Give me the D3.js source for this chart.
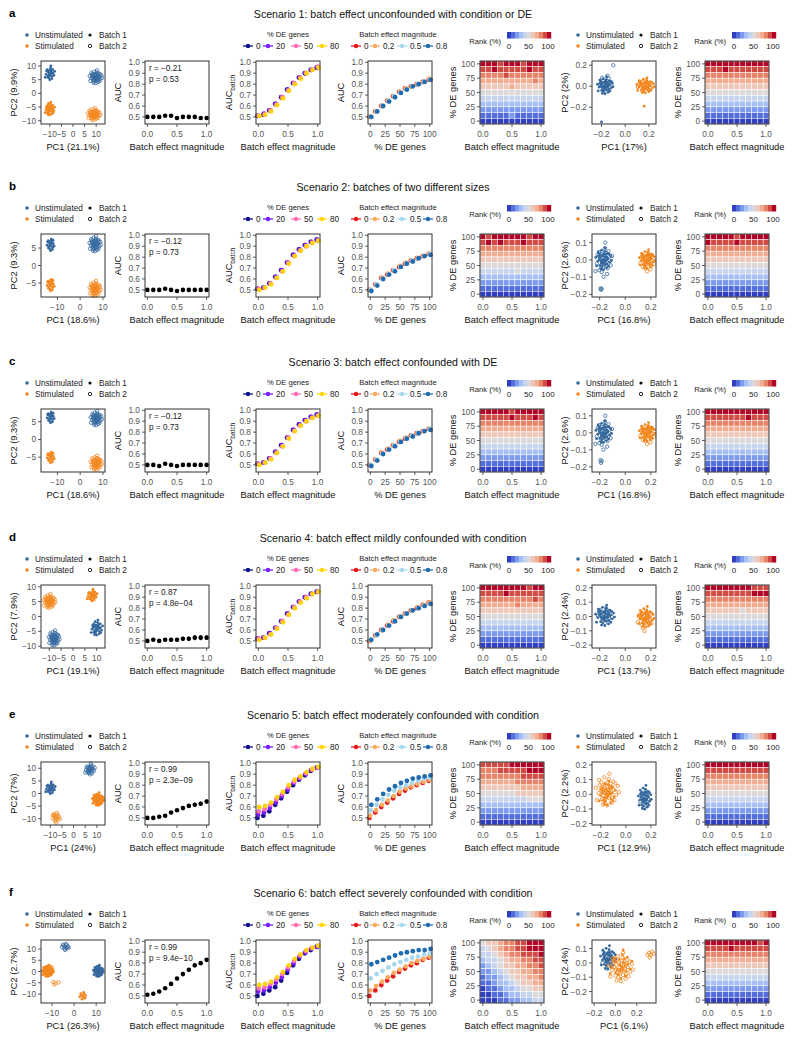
<!DOCTYPE html>
<html><head><meta charset="utf-8">
<script src="https://cdn.jsdelivr.net/npm/d3@7"></script>
<style>body{margin:0;background:#fff}</style>
</head><body>
<script>
// ---------------- DATA ----------------
const rowLetters = ["a","b","c","d","e","f"];
const rowTitles = [
  "Scenario 1: batch effect unconfounded with condition or DE",
  "Scenario 2: batches of two different sizes",
  "Scenario 3: batch effect confounded with DE",
  "Scenario 4: batch effect mildly confounded with condition",
  "Scenario 5: batch effect moderately confounded with condition",
  "Scenario 6: batch effect severely confounded with condition"
];
const batchMag = [0,0.1,0.2,0.3,0.4,0.5,0.6,0.7,0.8,0.9,1.0];
const deLevels = [0,10,20,30,40,50,60,70,80,90,100];
const deSeriesNames = ["0","20","50","80"];
const batchSeriesNames = ["0","0.2","0.5","0.8"];
const deSeriesColors = ["#10108f","#7a1cff","#ff6eb4","#ffd400"];
const batchSeriesColors = ["#e3191c","#fdaa5f","#a8d8ee","#1f6db0"];
const condNames = ["Unstimulated","Stimulated"];
const condColors = ["#35689e","#f2881f"];
const batchNames = ["Batch 1","Batch 2"];

const aucTicks = [0.5,0.6,0.7,0.8,0.9,1.0];
const batchTicks = [0,0.5,1.0];
const deTicks = [0,25,50,75,100];
const rankTicks = [0,50,100];

// panel 2: AUC vs batch effect magnitude
const aucValues = [
  [0.50,0.50,0.50,0.51,0.51,0.49,0.50,0.50,0.50,0.49,0.49],
  [0.50,0.50,0.50,0.51,0.50,0.49,0.50,0.50,0.50,0.50,0.50],
  [0.50,0.50,0.49,0.51,0.50,0.49,0.50,0.50,0.50,0.50,0.50],
  [0.50,0.51,0.50,0.51,0.51,0.51,0.52,0.52,0.53,0.53,0.53],
  [0.50,0.50,0.51,0.52,0.55,0.57,0.59,0.61,0.62,0.63,0.65],
  [0.51,0.52,0.54,0.57,0.61,0.66,0.70,0.74,0.78,0.80,0.83]
];
const aucErrors = [
  [0.004,0.004,0.004,0.004,0.004,0.004,0.004,0.004,0.004,0.004,0.004],
  [0.004,0.004,0.004,0.004,0.004,0.004,0.004,0.004,0.004,0.004,0.004],
  [0.004,0.004,0.004,0.004,0.004,0.004,0.004,0.004,0.004,0.004,0.004],
  [0.012,0.015,0.012,0.014,0.015,0.016,0.018,0.020,0.024,0.024,0.022],
  [0.005,0.005,0.006,0.008,0.010,0.012,0.014,0.016,0.018,0.020,0.020],
  [0.006,0.006,0.006,0.008,0.008,0.010,0.022,0.016,0.012,0.010,0.008]
];
const corrR = ["\u22120.21","\u22120.12","\u22120.12","0.87","0.99","0.99"];
const corrP = ["0.53","0.73","0.73","4.8e\u221204","2.3e\u221209","9.4e\u221210"];

// panel 3: AUC_batch by % DE series (0,20,50,80)
const aucBatchSeries = [
  [[0.51,0.52,0.56,0.62,0.68,0.75,0.81,0.86,0.90,0.93,0.95],
   [0.51,0.53,0.56,0.62,0.68,0.75,0.81,0.86,0.90,0.93,0.95],
   [0.51,0.52,0.56,0.61,0.68,0.74,0.81,0.86,0.90,0.93,0.96],
   [0.51,0.52,0.55,0.61,0.67,0.74,0.80,0.85,0.90,0.93,0.95]],
  [[0.51,0.52,0.56,0.62,0.68,0.75,0.82,0.87,0.91,0.94,0.96],
   [0.51,0.52,0.56,0.62,0.68,0.75,0.82,0.87,0.91,0.94,0.96],
   [0.51,0.52,0.56,0.61,0.67,0.75,0.81,0.86,0.90,0.93,0.95],
   [0.50,0.52,0.55,0.61,0.67,0.74,0.81,0.86,0.90,0.93,0.95]],
  [[0.51,0.52,0.56,0.62,0.68,0.75,0.82,0.87,0.91,0.94,0.96],
   [0.51,0.52,0.56,0.62,0.68,0.75,0.82,0.87,0.91,0.94,0.96],
   [0.51,0.52,0.56,0.61,0.67,0.75,0.81,0.86,0.90,0.93,0.95],
   [0.50,0.52,0.55,0.61,0.67,0.74,0.81,0.86,0.90,0.93,0.95]],
  [[0.52,0.53,0.57,0.62,0.68,0.75,0.81,0.86,0.90,0.93,0.95],
   [0.52,0.53,0.57,0.62,0.68,0.75,0.81,0.86,0.90,0.93,0.95],
   [0.52,0.53,0.56,0.62,0.68,0.74,0.81,0.86,0.90,0.93,0.95],
   [0.51,0.53,0.56,0.61,0.67,0.74,0.80,0.85,0.89,0.93,0.95]],
  [[0.50,0.52,0.56,0.62,0.68,0.74,0.80,0.85,0.89,0.93,0.96],
   [0.53,0.55,0.59,0.64,0.70,0.76,0.82,0.86,0.90,0.94,0.96],
   [0.56,0.58,0.62,0.67,0.72,0.78,0.83,0.87,0.91,0.94,0.96],
   [0.60,0.61,0.64,0.69,0.74,0.80,0.85,0.88,0.92,0.95,0.97]],
  [[0.50,0.52,0.55,0.58,0.64,0.71,0.78,0.84,0.89,0.92,0.95],
   [0.54,0.55,0.58,0.62,0.67,0.74,0.80,0.86,0.90,0.93,0.95],
   [0.57,0.58,0.61,0.65,0.70,0.76,0.82,0.87,0.91,0.94,0.96],
   [0.60,0.61,0.63,0.67,0.72,0.78,0.84,0.88,0.92,0.94,0.96]]
];
const aucBatchErr = [0.008,0.008,0.008,0.008,0.016,0.016];

// panel 4: AUC by batch-effect series (0,0.2,0.5,0.8) vs % DE genes
const aucDESeries = [
  [[0.50,0.55,0.60,0.65,0.69,0.73,0.76,0.78,0.80,0.82,0.84],
   [0.50,0.55,0.60,0.65,0.69,0.73,0.76,0.78,0.80,0.82,0.85],
   [0.50,0.55,0.60,0.65,0.69,0.72,0.75,0.78,0.80,0.82,0.84],
   [0.50,0.55,0.60,0.64,0.68,0.72,0.75,0.78,0.80,0.82,0.84]],
  [[0.50,0.55,0.61,0.64,0.68,0.71,0.74,0.77,0.79,0.81,0.83],
   [0.50,0.55,0.61,0.65,0.68,0.72,0.75,0.77,0.79,0.81,0.83],
   [0.50,0.55,0.60,0.64,0.68,0.71,0.74,0.77,0.79,0.81,0.83],
   [0.49,0.54,0.60,0.64,0.67,0.71,0.74,0.76,0.79,0.81,0.82]],
  [[0.50,0.55,0.61,0.64,0.68,0.71,0.74,0.77,0.79,0.81,0.83],
   [0.50,0.55,0.61,0.65,0.68,0.72,0.75,0.77,0.79,0.81,0.83],
   [0.50,0.55,0.60,0.64,0.68,0.71,0.74,0.77,0.79,0.81,0.83],
   [0.49,0.54,0.60,0.64,0.67,0.71,0.74,0.76,0.79,0.81,0.82]],
  [[0.50,0.55,0.60,0.64,0.68,0.72,0.75,0.78,0.80,0.83,0.85],
   [0.50,0.55,0.60,0.65,0.69,0.72,0.75,0.78,0.81,0.83,0.85],
   [0.51,0.55,0.60,0.64,0.68,0.72,0.75,0.78,0.80,0.82,0.84],
   [0.51,0.56,0.60,0.64,0.68,0.72,0.75,0.78,0.80,0.82,0.84]],
  [[0.50,0.55,0.60,0.64,0.68,0.72,0.75,0.78,0.80,0.82,0.84],
   [0.52,0.57,0.62,0.66,0.70,0.74,0.77,0.79,0.81,0.83,0.85],
   [0.57,0.62,0.67,0.71,0.75,0.78,0.80,0.82,0.84,0.86,0.87],
   [0.62,0.67,0.72,0.76,0.79,0.82,0.84,0.86,0.87,0.88,0.89]],
  [[0.50,0.55,0.60,0.64,0.68,0.72,0.75,0.78,0.80,0.83,0.85],
   [0.55,0.59,0.63,0.67,0.71,0.74,0.77,0.80,0.82,0.84,0.86],
   [0.66,0.70,0.73,0.76,0.79,0.81,0.83,0.85,0.86,0.88,0.89],
   [0.79,0.81,0.83,0.85,0.87,0.89,0.90,0.91,0.92,0.92,0.93]]
];
const aucDEErr = [0.008,0.008,0.008,0.008,0.018,0.014];

// heatmaps: rank level (0..10, 'a'=10) per cell; first string = 100% DE, columns = batch 0..1
const heat1 = [
  ["aaa9aaa9aaa","99a99999a99","88889888888","77777777787","66666766666","55555555555","44444444444","33333333333","22222222222","11111211111","00000000000"],
  ["a9aaaaaa9aa","9a9a999a999","88888888888","77777777777","66666666666","55555555555","44444454444","33333333333","22222222222","11111111111","00000000000"],
  ["aaaaa9aaaaa","99999a999a9","88888888888","77777777777","66666666666","55555555555","44444444444","33333333333","22222222222","11111111111","00000000000"],
  ["aaaaaaaa9aa","9999a999999","88888888898","77777787777","66666666666","55555555555","44444444444","33333333333","22222222222","11111111111","00000000000"],
  ["99999aaaaaa","88899999aaa","88888889999","77777788888","66666667777","55555566666","44444444555","33333333333","22222222222","11111111111","00000000000"],
  ["56678899aaa","45678899aaa","4456788999a","34456778899","23456677889","22345667788","12234566778","11233456677","01123345566","00112334455","00011223344"]
];
const heat2 = [
  ["aaaaaaaaaaa","999a9999999","88888888888","77777777777","66666666666","55555555555","44444444444","33333333333","22222222222","11111111111","00000000000"],
  ["aaaaa9aaaaa","a9999a99999","88888888888","77777777777","66666666666","55555555555","44444444444","33333333333","22222222222","11111111111","00000000000"],
  ["aaaaaaaaaaa","9999999a999","88888888888","77777777777","66666666666","55555555555","44444444444","33333333333","22222222222","11111111111","00000000000"],
  ["aaaaaaaa999","99999999aaa","88888888888","77777777777","66666656666","55555555555","44444444444","33333333333","22222222222","11111111111","00000000000"],
  ["aaaaaaaaaaa","99999999999","88888888888","77777777777","66666666666","55555555555","44444444444","33333333333","22222222222","11111111111","00000000000"],
  ["aaaaaaaaa9a","9999a999999","88888888888","77777777777","66666666666","55555555555","44444444444","33333333333","22222222222","11111111111","00000000000"]
];

// PCA scatter: a common cluster shape (unit offsets) reused by every cluster
const clusterShape = [[0.1,-0.3],[-0.8,0.5],[1.2,0.2],[-0.4,-1.1],[0.6,0.9],[-1.5,-0.2],[0.3,1.4],[0.9,-0.7],[-0.2,0.1],[-1.0,1.0],
  [1.6,-0.4],[0.0,-1.6],[-0.6,-0.5],[0.5,0.4],[-1.3,0.7],[1.1,1.1],[-0.3,0.8],[0.8,-1.3],[-0.9,-0.9],[0.2,-0.1],
  [1.9,0.6],[-1.8,-1.0],[0.4,2.0],[-0.1,-0.6],[0.7,0.0],[-0.5,1.6],[1.3,-1.0],[-1.1,0.2],[0.0,0.6],[-0.7,-1.5],
  [2.1,-0.1],[-2.0,0.4],[0.9,0.5],[-0.3,-0.2],[0.4,-0.8],[-1.4,1.3],[1.5,0.9],[0.1,1.0],[-0.8,-0.1],[0.6,-0.2]];

// first PCA panel per row
const pca1XLabel = ["PC1 (21.1%)","PC1 (18.6%)","PC1 (18.6%)","PC1 (19.1%)","PC1 (24%)","PC1 (26.3%)"];
const pca1YLabel = ["PC2 (9.9%)","PC2 (9.3%)","PC2 (9.3%)","PC2 (7.9%)","PC2 (7%)","PC2 (2.7%)"];
const pca1XDomain = [[-13.8,13.8],[-17.2,10.9],[-17.2,10.9],[-13.5,13.5],[-14,13.5],[-15,14]];
const pca1YDomain = [[-11.2,11.8],[-9,9],[-9.2,8.6],[-10.6,10.6],[-12.5,12.5],[-14,14]];
const pca1XTicks = [[-10,-5,0,5,10],[-10,0,10],[-10,0,10],[-10,-5,0,5,10],[-10,-5,0,5,10],[-10,0,10]];
const pca1YTicks = [[-10,-5,0,5,10],[-5,0,5],[-5,0,5],[-10,-5,0,5,10],[-10,-5,0,5,10],[-10,-5,0,5,10]];
// clusters: [condition index, batch index, centre x, centre y, spread x, spread y, count]
const pca1Clusters = [
  [[0,0,-10,7.2,1.1,1.4,25],[0,1,9.8,5.8,1.3,1.3,40],[1,0,-10,-5.8,1.1,1.3,30],[1,1,9,-7.8,1.3,1.2,40]],
  [[0,0,-13,6,1.0,1.1,20],[0,1,6.5,6,1.2,1.2,40],[1,0,-13,-5.5,1.0,1.1,20],[1,1,6.5,-6.8,1.2,1.2,40]],
  [[0,0,-13,6.3,1.0,1.0,20],[0,1,7,5.8,1.2,1.1,40],[1,0,-13,-5,1.0,1.0,20],[1,1,7,-6.8,1.2,1.1,40]],
  [[1,1,-10,5,1.2,1.3,40],[1,0,8,7,1.1,1.1,25],[0,1,-8,-7.5,1.1,1.4,40],[0,0,10,-4,1.3,1.4,30]],
  [[0,0,-10,2,1.1,1.3,25],[0,1,7,9.5,1.1,1.2,25],[1,1,-7.5,-9.5,1.0,1.3,15],[1,0,10.5,-2.5,1.2,1.4,40],[1,1,10.5,-2.5,1.0,1.1,15]],
  [[0,1,-4,11,1.0,0.9,12],[0,0,11,0,1.1,1.4,40],[1,0,-12,0,1.2,1.4,40],[1,1,-11.5,0.5,1.2,1.3,20],[1,1,-8.5,-5,1.2,0.7,4],[1,0,4,-11,1.0,1.2,10]]
];

// second PCA panel per row
const pca2XLabel = ["PC1 (17%)","PC1 (16.8%)","PC1 (16.8%)","PC1 (13.7%)","PC1 (12.9%)","PC1 (6.1%)"];
const pca2YLabel = ["PC2 (2%)","PC2 (2.6%)","PC2 (2.6%)","PC2 (2.4%)","PC2 (2.2%)","PC2 (2.4%)"];
const pca2XDomain = [[-0.28,0.26],[-0.26,0.24],[-0.26,0.24],[-0.26,0.24],[-0.27,0.24],[-0.22,0.38]];
const pca2YDomain = [[-0.36,0.24],[-0.215,0.15],[-0.23,0.14],[-0.22,0.22],[-0.21,0.22],[-0.28,0.16]];
const pca2XTicks = [[-0.2,0,0.2],[-0.2,0,0.2],[-0.2,0,0.2],[-0.2,0,0.2],[-0.2,0,0.2],[-0.2,0,0.2]];
const pca2YTicks = [[-0.2,0,0.2],[-0.2,-0.1,0,0.1],[-0.2,-0.1,0,0.1],[-0.2,-0.1,0,0.1,0.2],[-0.2,-0.1,0,0.1,0.2],[-0.2,-0.1,0,0.1]];
const pca2Clusters = [
  [[0,0,-0.17,0,0.032,0.045,40],[0,1,-0.16,0.03,0.035,0.05,10],[1,0,0.17,0,0.036,0.04,40],[1,1,0.16,0.0,0.035,0.04,10],[0,0,-0.2,-0.34,0,0,1],[1,0,0.16,-0.19,0,0,1],[0,1,-0.1,0.2,0,0,1]],
  [[0,0,-0.17,0,0.03,0.035,40],[0,1,-0.17,-0.01,0.035,0.055,25],[1,0,0.17,0,0.03,0.03,40],[1,1,0.17,-0.01,0.035,0.035,20],[0,1,-0.19,-0.17,0.005,0.01,3]],
  [[0,0,-0.17,0,0.03,0.035,40],[0,1,-0.17,-0.01,0.035,0.055,25],[1,0,0.17,0,0.03,0.03,40],[1,1,0.17,-0.01,0.035,0.035,20],[0,1,-0.19,-0.17,0.005,0.02,3]],
  [[0,0,-0.16,0,0.036,0.04,40],[0,1,-0.16,0.01,0.035,0.035,15],[1,0,0.16,-0.01,0.03,0.04,40],[1,1,0.15,-0.03,0.035,0.045,15]],
  [[1,1,-0.15,0.02,0.045,0.06,40],[1,0,-0.15,0.0,0.035,0.045,30],[0,0,0.15,-0.03,0.025,0.045,40],[0,1,0.15,-0.04,0.025,0.045,10]],
  [[0,0,-0.07,0.03,0.035,0.045,40],[0,1,-0.07,0.01,0.035,0.045,10],[1,1,0.05,-0.04,0.055,0.055,40],[1,0,0.05,-0.02,0.055,0.055,25],[1,1,0.33,0.06,0.02,0.02,6]]
];

// ---------------- LAYOUT ----------------
const rowTops = [61,234,409,585,762,940];
const panelLefts = [41,145,256,368,480,592,705];
const PW = 64, PH = 63;
const FONT = "'Liberation Sans', Arial, Helvetica, sans-serif";

const svg = d3.select("body").append("svg").attr("width",800).attr("height",1040)
  .style("font-family",FONT);

const heatInterp = d3.interpolateRgbBasis(["#2f3fbf","#5a79e4","#93b3f7","#c4d5f3","#dddddd","#f3c5b1","#f19c7c","#d9604a","#b10426"]);
const levelColor = d3.range(11).map(i=>heatInterp(i/10));

const fmt1 = v => d3.format(".1f")(v).replace("-","\u2212");
const fmtInt = v => d3.format("d")(v).replace("-","\u2212");

function axesFrame(g, x0, y0, xs, ys, xt, yt, xf, yf, xTitle, yTitle, sub){
  const b = y0+PH;
  const ax = g.append("g");
  xt.forEach(t=>{
    ax.append("line").attr("x1",xs(t)).attr("x2",xs(t)).attr("y1",b).attr("y2",b+3).attr("stroke","#333").attr("stroke-width",0.8);
    ax.append("text").attr("x",xs(t)).attr("y",b+13).attr("text-anchor","middle").attr("font-size",8.3).attr("fill","#555").text(xf(t));
  });
  yt.forEach(t=>{
    ax.append("line").attr("x1",x0-3).attr("x2",x0).attr("y1",ys(t)).attr("y2",ys(t)).attr("stroke","#333").attr("stroke-width",0.8);
    ax.append("text").attr("x",x0-5).attr("y",ys(t)+3).attr("text-anchor","end").attr("font-size",8.3).attr("fill","#555").text(yf(t));
  });
  ax.append("rect").attr("x",x0).attr("y",y0).attr("width",PW).attr("height",PH).attr("fill","none").attr("stroke","#333").attr("stroke-width",1);
  ax.append("text").attr("x",x0+PW/2).attr("y",b+26).attr("text-anchor","middle").attr("font-size",9.3).attr("fill","#111").text(xTitle);
  const yl = ax.append("text").attr("transform",`translate(${x0-24},${y0+PH/2}) rotate(-90)`).attr("text-anchor","middle").attr("font-size",9.3).attr("fill","#111");
  yl.append("tspan").text(yTitle);
  if(sub){ yl.append("tspan").attr("font-size",6.5).attr("dy",2.5).text(sub); }
}

function scatterPanel(g, x0, y0, xd, yd, xt, yt, xf, clusters, xl, yl){
  const xs = d3.scaleLinear().domain(xd).range([x0,x0+PW]);
  const ys = d3.scaleLinear().domain(yd).range([y0+PH,y0]);
  const pg = g.append("g");
  clusters.forEach(c=>{
    const [ci,bi,cx,cy,sx,sy,n] = c;
    clusterShape.slice(0,n).forEach(o=>{
      const px = xs(cx+o[0]*sx), py = ys(cy+o[1]*sy);
      if(bi===0) pg.append("circle").attr("cx",px).attr("cy",py).attr("r",1.4).attr("fill",condColors[ci]);
      else pg.append("circle").attr("cx",px).attr("cy",py).attr("r",1.7).attr("fill","none").attr("stroke",condColors[ci]).attr("stroke-width",0.8);
    });
  });
  axesFrame(g,x0,y0,xs,ys,xt,yt,xf,xf,xl,yl);
}

function pcaLegend(g, x, top){
  condNames.forEach((n,i)=>{
    const y = top-26+i*11;
    g.append("circle").attr("cx",x).attr("cy",y).attr("r",1.8).attr("fill",condColors[i]);
    g.append("text").attr("x",x+8).attr("y",y+3).attr("font-size",8.2).attr("fill","#222").text(n);
  });
  batchNames.forEach((n,i)=>{
    const y = top-26+i*11;
    if(i===0) g.append("circle").attr("cx",x+63).attr("cy",y).attr("r",1.6).attr("fill","#111");
    else g.append("circle").attr("cx",x+63).attr("cy",y).attr("r",1.7).attr("fill","none").attr("stroke","#111").attr("stroke-width",0.9);
    g.append("text").attr("x",x+72).attr("y",y+3).attr("font-size",8.2).attr("fill","#222").text(n);
  });
}

function seriesLegend(g, cx, title, names, colors, xs, top){
  g.append("text").attr("x",cx).attr("y",top-24).attr("text-anchor","middle").attr("font-size",7.6).attr("fill","#222").text(title);
  names.forEach((n,i)=>{
    const x = xs[i], y = top-15;
    g.append("line").attr("x1",x-5).attr("x2",x+5).attr("y1",y).attr("y2",y).attr("stroke",colors[i]).attr("stroke-width",1.3);
    g.append("circle").attr("cx",x).attr("cy",y).attr("r",2.2).attr("fill",colors[i]);
    g.append("text").attr("x",x+8).attr("y",y+3).attr("font-size",8.2).attr("fill","#222").text(n);
  });
}

function rankLegend(g, x, top){
  const w = 44/11;
  levelColor.forEach((c,i)=>{
    g.append("rect").attr("x",x+i*w).attr("y",top-29).attr("width",w+0.2).attr("height",6.5).attr("fill",c);
  });
  const rs = d3.scaleLinear().domain([0,100]).range([x+2,x+41]);
  rankTicks.forEach(t=>{
    g.append("text").attr("x",rs(t)).attr("y",top-12).attr("text-anchor","middle").attr("font-size",8).attr("fill","#222").text(t);
  });
  g.append("text").attr("x",x-6).attr("y",top-17).attr("text-anchor","end").attr("font-size",7.6).attr("fill","#222").text("Rank (%)");
}

function heatPanel(g, x0, y0, mat){
  const xs = d3.scaleLinear().domain([-0.05,1.05]).range([x0,x0+PW]);
  const ys = d3.scaleLinear().domain([-5,105]).range([y0+PH,y0]);
  const hg = g.append("g");
  mat.forEach((rowStr,ri)=>{
    const de = deLevels[deLevels.length-1-ri];
    rowStr.split("").forEach((ch,ci)=>{
      const lv = parseInt(ch,16);
      const b = batchMag[ci];
      hg.append("rect").attr("x",xs(b-0.05)).attr("y",ys(de+5)).attr("width",xs(b+0.05)-xs(b-0.05)).attr("height",ys(de-5)-ys(de+5))
        .attr("fill",levelColor[lv]).attr("stroke","#ffffff").attr("stroke-width",0.55).attr("stroke-opacity",0.85);
    });
  });
  axesFrame(g,x0,y0,xs,ys,batchTicks,deTicks,fmt1,fmtInt,"Batch effect magnitude","% DE genes");
}

rowTops.forEach((top,r)=>{
  const g = svg.append("g");
  g.append("text").attr("x",9).attr("y",top-44).attr("font-size",11.5).attr("font-weight","bold").attr("fill","#000").text(rowLetters[r]);
  g.append("text").attr("x",393).attr("y",top-43).attr("text-anchor","middle").attr("font-size",10.6).attr("fill","#111").text(rowTitles[r]);

  // legends
  pcaLegend(g, 27, top);
  pcaLegend(g, 578, top);
  seriesLegend(g, 288, "% DE genes", deSeriesNames, deSeriesColors, [248,268,296,322], top);
  seriesLegend(g, 398, "Batch effect magnitude", batchSeriesNames, batchSeriesColors, [356,375,402,428], top);
  rankLegend(g, 507, top);
  rankLegend(g, 732, top);

  // panel 1: PCA
  scatterPanel(g, panelLefts[0], top, pca1XDomain[r], pca1YDomain[r], pca1XTicks[r], pca1YTicks[r], fmtInt, pca1Clusters[r], pca1XLabel[r], pca1YLabel[r]);

  // panel 2: AUC vs batch
  {
    const x0 = panelLefts[1];
    const xs = d3.scaleLinear().domain([-0.04,1.04]).range([x0,x0+PW]);
    const ys = d3.scaleLinear().domain([0.435,1.012]).range([top+PH,top]);
    const pg = g.append("g");
    aucValues[r].forEach((v,i)=>{
      const e = aucErrors[r][i];
      pg.append("line").attr("x1",xs(batchMag[i])).attr("x2",xs(batchMag[i])).attr("y1",ys(v-e)).attr("y2",ys(v+e)).attr("stroke","#000").attr("stroke-width",1.1);
      pg.append("circle").attr("cx",xs(batchMag[i])).attr("cy",ys(v)).attr("r",2.3).attr("fill","#000");
    });
    g.append("text").attr("x",x0+4).attr("y",top+10).attr("font-size",8.2).attr("fill","#222").text("r = "+corrR[r]);
    g.append("text").attr("x",x0+4).attr("y",top+21).attr("font-size",8.2).attr("fill","#222").text("p = "+corrP[r]);
    axesFrame(g,x0,top,xs,ys,batchTicks,aucTicks,fmt1,fmt1,"Batch effect magnitude","AUC");
  }

  // panel 3: AUC_batch vs batch by %DE
  {
    const x0 = panelLefts[2];
    const xs = d3.scaleLinear().domain([-0.04,1.04]).range([x0,x0+PW]);
    const ys = d3.scaleLinear().domain([0.435,1.012]).range([top+PH,top]);
    const pg = g.append("g");
    const dodge = [-0.016,-0.005,0.005,0.016];
    aucBatchSeries[r].forEach((ser,si)=>{
      ser.forEach((v,i)=>{
        const x = xs(batchMag[i]+dodge[si]), e = aucBatchErr[r];
        pg.append("line").attr("x1",x).attr("x2",x).attr("y1",ys(v-e)).attr("y2",ys(v+e)).attr("stroke",deSeriesColors[si]).attr("stroke-width",1.1);
        pg.append("circle").attr("cx",x).attr("cy",ys(v)).attr("r",2.4).attr("fill",deSeriesColors[si]);
      });
    });
    axesFrame(g,x0,top,xs,ys,batchTicks,aucTicks,fmt1,fmt1,"Batch effect magnitude","AUC","batch");
  }

  // panel 4: AUC vs %DE by batch magnitude
  {
    const x0 = panelLefts[3];
    const xs = d3.scaleLinear().domain([-4,104]).range([x0,x0+PW]);
    const ys = d3.scaleLinear().domain([0.435,1.012]).range([top+PH,top]);
    const pg = g.append("g");
    const dodge = [-1.6,-0.5,0.5,1.6];
    aucDESeries[r].forEach((ser,si)=>{
      ser.forEach((v,i)=>{
        const x = xs(deLevels[i]+dodge[si]), e = aucDEErr[r];
        pg.append("line").attr("x1",x).attr("x2",x).attr("y1",ys(v-e)).attr("y2",ys(v+e)).attr("stroke",batchSeriesColors[si]).attr("stroke-width",1.1);
        pg.append("circle").attr("cx",x).attr("cy",ys(v)).attr("r",2.4).attr("fill",batchSeriesColors[si]);
      });
    });
    axesFrame(g,x0,top,xs,ys,deTicks,aucTicks,fmtInt,fmt1,"% DE genes","AUC");
  }

  // panel 5: heatmap 1
  heatPanel(g, panelLefts[4], top, heat1[r]);

  // panel 6: PCA 2
  scatterPanel(g, panelLefts[5], top, pca2XDomain[r], pca2YDomain[r], pca2XTicks[r], pca2YTicks[r], fmt1, pca2Clusters[r], pca2XLabel[r], pca2YLabel[r]);

  // panel 7: heatmap 2
  heatPanel(g, panelLefts[6], top, heat2[r]);
});
</script>
</body></html>
